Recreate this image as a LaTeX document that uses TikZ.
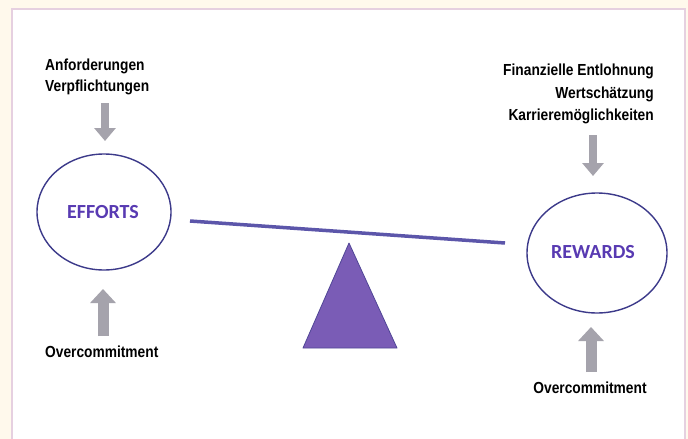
\documentclass[tikz,border=0pt]{standalone}
\usepackage{fontspec}
\usetikzlibrary{arrows.meta}
\newfontfamily\lblfont{Liberation Sans Bold}[FakeStretch=0.86]
\newfontfamily\capfont{Carlito Bold}
\definecolor{cream}{RGB}{255,249,236}
\definecolor{framec}{RGB}{230,208,224}
\definecolor{ringc}{RGB}{60,58,138}
\definecolor{wordc}{RGB}{88,58,178}
\definecolor{beamc}{RGB}{92,86,170}
\definecolor{trif}{RGB}{122,92,182}
\definecolor{trid}{RGB}{80,70,150}
\definecolor{arrc}{RGB}{165,163,172}
\tikzset{
  lbl/.style={font=\lblfont\fontsize{16}{21.5}\selectfont, text=black, inner sep=0pt},
  word/.style={font=\capfont\fontsize{20}{22}\selectfont, text=wordc},
  thinarrow/.style={arrc, line width=8pt, -{Triangle[width=21pt,length=13pt]}},
  widearrow/.style={arrc, line width=11pt, -{Triangle[width=25pt,length=14pt]}},
}
\begin{document}
\begin{tikzpicture}[x=1pt,y=-1pt]
\useasboundingbox (0,0) rectangle (688,439);
\fill[cream] (0,0) rectangle (688,439);
\draw[framec, line width=2.5pt, fill=white] (12,9) -- (12,445) -- (685,445) -- (685,9) -- cycle;

% ellipses
\draw[ringc, line width=1.4pt] (104,212) ellipse [x radius=67, y radius=58];
\draw[ringc, line width=1.4pt] (597,253) ellipse [x radius=70, y radius=60];
\node[word] (efforts) at (103,212) {EFFORTS};
\node[word] (rewards) at (593,252) {REWARDS};

% beam and fulcrum
\coordinate (beamL) at (190,221);
\coordinate (beamR) at (505,243);
\draw[beamc, line width=3.5pt] (beamL) -- (beamR);
\coordinate (apex) at (349,243);
\coordinate (bl) at (303,348);
\coordinate (br) at (397,348);
\filldraw[fill=trif, draw=trid, line width=0.8pt, line join=round] (apex) -- (bl) -- (br) -- cycle;

% texts
\node[lbl, anchor=west, align=left] (leftTop) at (45,77) {Anforderungen\\Verpflichtungen};
\node[lbl, anchor=east, align=right, font=\lblfont\fontsize{16}{22.5}\selectfont] (rightTop) at (654,94) {Finanzielle Entlohnung\\Wertschätzung\\Karrieremöglichkeiten};
\node[lbl, anchor=west] (leftBot) at (45,352) {Overcommitment};
\node[lbl] (rightBot) at (590,388) {Overcommitment};

% gray arrows
\coordinate (a1s) at (105,103);
\coordinate (a1e) at (105,141);
\coordinate (a2s) at (103,336);
\coordinate (a2e) at (103,289);
\coordinate (a3s) at (593,135);
\coordinate (a3e) at (593,176);
\coordinate (a4s) at (591,372);
\coordinate (a4e) at (591,327);
\draw[thinarrow] (a1s) -- (a1e);
\draw[widearrow] (a2s) -- (a2e);
\draw[thinarrow] (a3s) -- (a3e);
\draw[widearrow] (a4s) -- (a4e);
\end{tikzpicture}
\end{document}
